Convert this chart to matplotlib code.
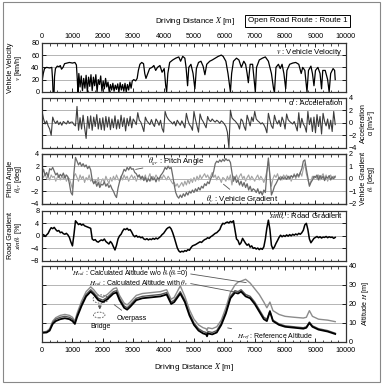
import numpy as np
import matplotlib
matplotlib.use("Agg")
import matplotlib.pyplot as plt
from matplotlib.patches import Rectangle, Ellipse
from matplotlib.ticker import MultipleLocator

plt.rcParams["font.family"] = ["Liberation Sans", "DejaVu Sans"]
plt.rcParams["mathtext.fontset"] = "stix"

# ---- data ----
# vehicle velocity [km/h] (irregular sampling)
vel_dist = [0, 40, 80, 150, 250, 320, 345, 360, 395, 410, 440, 500, 560, 600, 640, 690, 740, 820, 900, 1000,
            1080, 1130, 1160, 1180, 1210, 1250, 1290, 1330, 1370, 1410, 1450, 1490, 1530, 1570, 1610, 1650,
            1690, 1730, 1770, 1810, 1850, 1890, 1930, 1970, 2010, 2050, 2090, 2130, 2170, 2210, 2250, 2290,
            2330, 2370, 2410, 2450, 2490, 2530, 2570, 2610, 2650, 2690, 2730, 2770, 2810, 2850, 2890, 2930,
            2970, 3020, 3080, 3130, 3170, 3220, 3280, 3340, 3380, 3420, 3480, 3540, 3620, 3680, 3740, 3800,
            3880, 3950, 4020, 4070, 4100, 4140, 4200, 4300, 4400, 4500, 4560, 4630, 4700, 4740, 4790, 4830,
            4900, 4970, 5030, 5080, 5150, 5230, 5300, 5360, 5420, 5520, 5600, 5700, 5800, 5900, 5960, 6050,
            6120, 6200, 6240, 6300, 6400, 6480, 6560, 6640, 6700, 6750, 6790, 6850, 6930, 6980, 7020, 7060,
            7150, 7250, 7350, 7450, 7550, 7620, 7650, 7700, 7780, 7840, 7900, 7960, 8020, 8060, 8150, 8250,
            8350, 8450, 8530, 8580, 8650, 8720, 8770, 8850, 8900, 8950, 9000, 9080, 9150, 9200, 9240, 9320,
            9400, 9450, 9500, 9580, 9630, 9650]
vel_speed = [18, 30, 38, 40, 39, 40, 20, 0, 0, 25, 38, 42, 41, 43, 37, 40, 46, 47, 48, 47,
             48, 44, 20, 0, 30, 8, 26, 2, 22, 6, 27, 0, 24, 9, 28, 2,
             24, 10, 28, 0, 20, 12, 26, 1, 18, 5, 22, 8, 16, 0, 12, 3,
             14, 1, 11, 4, 13, 0, 15, 3, 12, 1, 14, 0, 12, 3, 16, 6,
             18, 20, 18, 22, 35, 45, 48, 46, 30, 22, 30, 38, 40, 43, 35, 40,
             43, 32, 38, 10, 0, 30, 48, 52, 55, 57, 50, 58, 55, 40, 10, 40,
             45, 30, 5, 38, 48, 50, 42, 28, 45, 50, 52, 55, 58, 60, 58, 50,
             30, 0, 30, 50, 55, 52, 40, 50, 45, 30, 15, 45, 45, 20, 0, 40,
             52, 55, 57, 50, 30, 5, 0, 40, 45, 38, 45, 30, 5, 35, 45, 47,
             48, 45, 30, 40, 35, 0, 35, 42, 30, 10, 35, 40, 30, 5, 35, 35,
             20, 0, 30, 38, 35, 20]

# 50 m sampled signals, 0 ... 9650 m
sample_dist = np.arange(0, 9651, 50)

accel = [1.8, 0.6, -0.2, 0.3, -0.5, -1.0, -2.0, 0.9, 0.2, -0.1, 0.3, -0.3, 0.1, -0.4, 0.2, 0.0, -0.2, 0.3, -0.1, 0.1,
         0.1, -0.3, -0.5, 2.6, -1.2, 0.8, -1.0, 1.2, -0.8, -2.5, 1.0, -0.9, 1.1, -1.2, 0.9, -0.6, 1.3, -1.0, 0.7, -1.1,
         0.8, -1.2, 1.0, -0.7, 0.9, -1.1, 0.6, -0.8, 1.1, -1.0, 0.5, -0.9, 1.2, -0.6, 0.8, -1.3, 0.7, -0.5, 1.0, -0.8,
         0.6, 0.2, -0.3, 1.6, 0.4, 0.1, -0.6, -1.4, 0.9, 0.3, 0.0, -0.3, 0.5, -0.2, -0.6, 0.6, 0.2, -0.4, 0.4, -0.9,
         -1.5, 1.8, 1.0, 0.6, 0.3, 0.1, -0.2, 0.2, -0.5, 0.4, 0.0, -0.4, 0.3, -0.2, -0.8, 1.5, 0.4, -0.3, -0.6, -1.2,
         1.8, 0.5, -0.5, -1.5, 1.4, 0.6, 0.2, -0.3, -0.8, 1.0, 0.4, 0.2, 0.6, 0.3, 0.1, 0.4, 0.2, -0.1, 0.3, 0.1,
         -0.2, -0.6, -1.5, -4.0, 2.0, 0.8, 0.5, 0.3, 0.0, -0.3, -1.0, 0.6, 0.3, -0.6, -1.2, 1.2, 0.4, -0.5, 0.9, 0.2,
         1.8, 0.6, 0.3, 0.1, -0.2, 0.0, -0.3, -0.8, -1.6, 1.5, 0.4, -0.5, -0.9, 1.2, 0.3, -0.2, 0.4, -0.6, 0.9, 0.2,
         -1.0, 1.4, 0.5, 0.2, 0.0, -0.2, 0.2, -0.5, -1.3, 1.6, -0.8, 0.7, -0.2, -0.6, -1.5, 1.8, -0.3, 0.8, -1.4, 0.9,
         -1.6, 1.3, -0.6, 1.0, -1.8, 1.5, 0.2, -0.5, 0.6, -1.0, 0.4, -1.4, 1.8, -0.3]

pitch = [0.8, 1.5, 0.5, 1.0, 0.3, 1.6, 1.4, 1.8, 1.2, 0.6, 0.9, 0.2, 0.7, 0.4, 0.9, 0.1, 0.6, 0.3, -0.8, -2.2,
         -2.6, 1.0, 3.4, 2.8, 2.2, 2.6, 2.0, 2.4, 1.9, 2.2, 1.6, 2.0, 1.4, -0.2, -0.8, -0.4, -1.2, -0.6, -1.4, -0.9,
         -1.0, -0.5, -1.2, -0.8, -1.4, -1.0, -1.6, -2.0, -2.6, -3.0, -1.5, -0.5, 0.3, 0.8, 1.5, 1.2, 1.8, 1.4, 1.9, 1.5,
         1.6, 1.0, 0.8, 0.3, 0.6, 0.0, 0.4, -0.3, 0.2, -0.5, 0.0, -0.4, 0.3, -0.2, 0.1, -0.5, 0.2, -0.1, 0.5, 0.8,
         1.2, 1.8, 1.5, 2.0, 1.6, 1.8, 0.5, -1.0, -2.2, -2.8, -3.1, -2.6, -3.0, -2.4, -2.8, -2.2, -2.6, -2.0, -2.3, -1.8,
         -2.2, -1.6, -2.0, -1.4, -1.8, -1.2, -1.5, -0.8, -1.1, -0.5, -0.8, 0.0, 0.4, 1.2, 2.4, 2.8, 2.6, 3.0, 2.7, 3.1,
         2.8, 3.2, 2.9, 3.0, 2.6, 1.0, -0.4, 0.3, -0.6, -0.2, -1.0, -0.4, -1.2, -0.6, -1.4, -0.8, -1.8, -1.2, -2.0, -1.6,
         -1.8, -2.2, -1.6, -2.4, -2.0, -2.6, -1.8, -2.2, 1.0, 3.3, 0.5, -2.6, -2.0, -1.2, -0.8, -0.3, 0.2, -0.2, 0.3, 0.0,
         0.2, -0.1, 0.4, 0.0, 0.5, 0.2, 0.6, 0.3, 0.8, 0.4, 1.0, 1.6, 2.8, 3.0, 1.5, 0.2, -1.2, -0.6, -0.2, 0.4,
         0.2, 0.6, -0.2, 0.5, 0.0, 0.4, -0.3, 0.3, 0.1, 0.5, -0.2, 0.3, 0.0, 0.4]

veh_grad = [0.3, 0.1, 0.4, 0.0, 0.2, -0.1, 0.3, 0.1, 0.2, -0.2, 0.1, 0.3, -0.1, 0.2, 0.0, 0.3, -0.2, 0.1, 0.0, -0.4,
            -0.8, 0.2, 0.4, 0.1, -0.2, 0.3, 0.0, 0.2, -0.3, 0.1, -0.1, 0.3, -0.2, 0.0, -0.4, -0.1, -0.3, 0.1, -0.6, -0.2,
            0.0, -0.3, 0.2, -0.1, -0.4, 0.1, -0.2, 0.2, -0.1, 0.3, 0.0, -0.2, 0.2, -0.1, 0.3, 0.0, 0.2, -0.2, 0.1, 0.3,
            0.0, 0.2, -0.2, 0.1, 0.3, -0.1, 0.2, 0.0, 0.3, -0.2, 0.1, 0.4, -0.1, 0.2, 0.0, 0.3, 0.1, -0.2, 0.2, 0.0,
            0.3, 0.1, -0.1, 0.2, 0.0, -0.2, -0.4, -0.3, -0.6, -0.4, -0.7, -0.5, -0.3, -0.6, -0.2, -0.5, -0.1, -0.4, 0.0, -0.3,
            0.1, -0.2, 0.2, -0.1, 0.3, 0.0, 0.2, 0.4, 0.1, 0.3, 0.0, 0.2, 0.5, 0.1, 0.3, -0.1, 0.2, 0.0, -0.3, 0.1,
            0.0, -0.2, 0.2, -0.1, 0.3, -0.5, 0.2, 0.0, 0.3, -0.1, 0.2, 0.4, 0.0, 0.2, -0.2, 0.1, 0.3, -0.1, 0.2, 0.0,
            -0.2, 0.1, 0.3, -0.1, 0.2, 0.0, -0.3, 0.1, 0.6, 1.4, 0.2, -0.6, 0.0, 0.3, 0.1, 0.4, 0.0, 0.2, -0.1, 0.3,
            0.1, 0.3, 0.0, 0.2, -0.2, 0.1, 0.4, 0.0, 0.3, 0.1, 0.5, 0.2, 0.8, 1.2, 0.4, -0.1, -0.5, -0.2, 0.2, 0.0,
            0.2, 0.0, 0.3, -0.1, 0.2, 0.4, 0.0, 0.3, -0.2, 0.1, 0.3, 0.0, 0.2, 0.1]

road_grad = [0.0, 0.4, -0.2, 0.3, 0.8, 1.8, 2.6, 2.3, 2.7, 2.0, 1.5, 1.7, 1.0, 1.2, 0.7, 0.5, 0.8, 0.3, -0.5, -2.0,
             -3.2, 0.5, 4.8, 4.2, 3.6, 3.9, 3.4, 3.7, 3.2, 3.0, 2.8, 2.6, 2.4, -1.0, -1.4, -1.2, -1.8, -2.0, -1.6, -1.3,
             -1.5, -1.0, -1.8, -2.2, -2.6, -1.8, -2.4, -3.5, -4.5, -3.0, -1.0, 0.0, 0.5, 1.5, 2.2, 2.0, 2.4, 1.8, 2.0, 1.2,
             0.2, -0.3, 0.1, -0.4, -0.2, -0.6, -0.4, -1.0, -1.2, -0.9, -1.3, -1.0, -1.2, -0.8, -1.1, -0.7, -1.0, -0.6, -0.2, 0.4,
             0.8, 1.5, 2.2, 2.6, 2.8, 2.2, 1.0, -0.5, -2.2, -3.8, -4.8, -5.2, -4.9, -5.1, -4.7, -4.9, -4.4, -4.6, -3.8, -3.2,
             -3.0, -2.8, -2.5, -2.2, -1.9, -2.1, -1.6, -1.2, -1.0, -0.6, -0.8, -0.3, 0.0, 0.4, 0.8, 1.0, 1.5, 2.0, 3.2, 4.0,
             3.8, 4.2, 4.4, 4.1, 4.6, 4.3, 4.8, 2.0, -1.0, -1.5, -2.8, -2.2, -0.8, -1.6, -2.4, -3.0, -2.6, -3.6, -3.2, -4.0,
             -3.8, -4.2, -3.9, -4.4, -4.0, -4.3, -3.5, -1.0, 2.5, 5.0, 2.0, -3.0, -4.2, -3.5, -2.4, -1.5, -0.5, 0.2, -0.3, 0.1,
             -0.2, 0.3, -0.1, 0.4, 0.0, 0.5, 0.2, 0.6, 0.3, 0.8, 0.5, 1.0, 1.8, 3.5, 4.0, 2.0, -1.0, -2.2, -1.5, -0.8,
             -0.5, -0.2, -0.6, -0.3, -0.7, -0.4, -0.5, -0.2, -0.6, -0.3, -0.5, -0.4, -0.8, -0.5]

# altitude [m]
alt_dist = [0, 150, 250, 350, 450, 600, 750, 900, 1000, 1080, 1150, 1300, 1450, 1600, 1700, 1850, 2000, 2150,
            2350, 2450, 2550, 2700, 2800, 2900, 3100, 3300, 3600, 3900, 4100, 4250, 4350, 4550, 4700, 4850,
            5000, 5150, 5300, 5400, 5430, 5460, 5600, 5750, 5900, 6050, 6200, 6350, 6450, 6550, 6700, 6850,
            7000, 7150, 7300, 7400, 7500, 7600, 7800, 8000, 8300, 8600, 8700, 8800, 8900, 9100, 9400, 9650]
alt_ref = [4.8, 5.0, 6.0, 9.5, 11.0, 12.0, 12.5, 12.0, 11.0, 9.5, 13.0, 19.0, 24.0, 26.5, 25.0, 22.0, 21.0, 22.5,
           25.5, 26.0, 22.0, 18.0, 17.0, 18.5, 22.0, 23.0, 23.5, 24.0, 25.0, 20.0, 21.0, 25.5, 21.0, 14.0,
           9.0, 6.0, 4.5, 4.0, 3.0, 4.5, 4.0, 5.0, 9.0, 15.0, 23.0, 26.0, 25.5, 26.5, 24.0, 23.0,
           20.0, 16.0, 12.0, 11.0, 16.0, 11.0, 9.0, 8.0, 7.5, 7.0, 7.5, 10.0, 8.0, 6.5, 5.5, 4.2]
alt_with = [5.0, 5.3, 6.5, 10.3, 12.0, 13.0, 13.5, 13.0, 12.0, 10.3, 14.0, 20.0, 25.0, 27.5, 26.0, 23.0, 22.0, 23.5,
            26.5, 27.0, 23.0, 19.0, 18.0, 19.5, 23.0, 24.0, 24.5, 25.0, 26.0, 21.0, 22.0, 26.5, 22.0, 15.0,
            10.0, 7.0, 5.5, 5.0, 4.0, 5.5, 5.0, 6.0, 10.0, 16.0, 24.0, 27.0, 26.5, 27.5, 25.0, 24.0,
            21.0, 17.0, 13.0, 12.0, 16.5, 11.5, 9.5, 8.5, 8.0, 7.5, 8.0, 10.5, 8.5, 7.0, 6.0, 4.6]
alt_wo = [5.2, 5.6, 7.0, 11.0, 12.8, 14.0, 14.5, 14.0, 13.0, 11.0, 15.0, 21.5, 26.5, 29.0, 27.5, 24.5, 23.5, 25.0,
          28.0, 28.5, 24.5, 20.5, 19.5, 21.0, 24.5, 25.5, 26.0, 26.5, 27.5, 22.5, 23.5, 29.5, 24.0, 17.0,
          12.0, 9.0, 7.5, 7.0, 6.0, 7.5, 7.0, 8.0, 11.5, 18.0, 26.0, 30.0, 31.5, 32.0, 33.0, 31.0,
          28.0, 25.0, 21.0, 18.0, 21.0, 16.5, 14.5, 13.5, 13.0, 12.6, 13.0, 16.5, 13.5, 12.0, 11.5, 10.7]

GRID = "#b4b4b4"
FS_TICK = 5.2
FS_LAB = 5.2
FS_NOTE = 5.0
LEFT_LAB_X = -0.058
RIGHT_LAB_X = 1.046


def style(ax, ylim, ystep, grid_vals):
    ax.set_xlim(0, 10000)
    ax.set_ylim(*ylim)
    ax.xaxis.set_major_locator(MultipleLocator(1000))
    ax.xaxis.set_minor_locator(MultipleLocator(250))
    ax.yaxis.set_major_locator(MultipleLocator(ystep))
    ax.tick_params(which="both", direction="in", top=True, bottom=True, left=True, right=True,
                   labelbottom=False, labelleft=False, labelsize=FS_TICK, pad=2)
    ax.tick_params(which="major", length=3, width=0.6)
    ax.tick_params(which="minor", length=1.8, width=0.5)
    for g in grid_vals:
        ax.axhline(g, color=GRID, lw=0.7, zorder=0)
    for s in ax.spines.values():
        s.set_linewidth(0.9)
        s.set_color("#333333")


def left_label(ax, txt):
    ax.set_ylabel(txt, fontsize=FS_LAB, linespacing=0.9)
    ax.yaxis.set_label_coords(LEFT_LAB_X, 0.5)


def right_label(ax, txt):
    ax.yaxis.set_label_position("right")
    ax.set_ylabel(txt, fontsize=FS_LAB, linespacing=0.9)
    ax.yaxis.set_label_coords(RIGHT_LAB_X, 0.5)


fig = plt.figure(figsize=(3.86, 3.86), dpi=100)
fig.patches.append(Rectangle((0.008, 0.01), 0.977, 0.984, transform=fig.transFigure,
                             fill=False, ec="#888888", lw=0.8))

L, W = 0.109, 0.787
ax1 = fig.add_axes([L, 0.762, W, 0.127])
ax2 = fig.add_axes([L, 0.617, W, 0.130])
ax3 = fig.add_axes([L, 0.472, W, 0.130])
ax4 = fig.add_axes([L, 0.324, W, 0.130])
ax5 = fig.add_axes([L, 0.114, W, 0.197])

# velocity
style(ax1, (0, 80), 20, [20, 40, 60])
ax1.plot(vel_dist, vel_speed, color="black", lw=0.9)
ax1.tick_params(labelleft=True, labeltop=True)
left_label(ax1, "Vehicle Velocity\n$v$ [km/h]")
ax1.text(0.99, 0.8, "$v$ : Vehicle Velocity", transform=ax1.transAxes, ha="right", va="center",
         fontsize=FS_NOTE + 0.6)

# acceleration
style(ax2, (-4, 4), 2, [-2, 0, 2])
ax2.plot(sample_dist, accel, color="#3c3c3c", lw=0.8)
ax2.tick_params(labelright=True)
right_label(ax2, "Acceleration\nα [m/s$^2$]")
ax2.text(0.99, 0.88, "α : Acceleration", transform=ax2.transAxes, ha="right", va="center",
         fontsize=FS_NOTE + 0.6)

# pitch angle / vehicle gradient
style(ax3, (-4, 4), 2, [-2, 0, 2])
ax3.tick_params(right=False, labelleft=True)
ax3.plot(sample_dist, pitch, color="#6a6a6a", lw=0.9)
left_label(ax3, "Pitch Angle\n$\\theta_{gr}$ [deg]")
ax3b = ax3.twinx()
ax3b.set_ylim(-2, 2)
ax3b.yaxis.set_major_locator(MultipleLocator(1))
ax3b.tick_params(direction="in", length=3, width=0.6, labelsize=FS_TICK, pad=2)
ax3b.plot(sample_dist, veh_grad, color="#a2a2a2", lw=0.8)
right_label(ax3b, "Vehicle Gradient\n$\\theta_v$ [deg]")
ax3.set_zorder(ax3b.get_zorder() + 1)
ax3.patch.set_visible(False)
ax3.annotate("$\\theta_{gr}$ : Pitch Angle", xy=(2990, 1.4), xytext=(3500, 2.75), fontsize=FS_NOTE + 0.6,
             va="center", arrowprops=dict(arrowstyle="-", color="#555555", lw=0.6))
ax3.annotate("$\\theta_v$ : Vehicle Gradient", xy=(5900, -0.6), xytext=(5400, -3.3), fontsize=FS_NOTE + 0.6,
             va="center", arrowprops=dict(arrowstyle="-", color="#555555", lw=0.6))

# road gradient
style(ax4, (-8, 8), 4, [-4, 0, 4])
ax4.plot(sample_dist, road_grad, color="black", lw=1.1)
ax4.tick_params(labelleft=True)
left_label(ax4, "Road Gradient\n$sin\\theta_r$ [%]")
ax4.text(0.99, 0.88, "$sin\\theta_r$ : Road Gradient", transform=ax4.transAxes, ha="right", va="center",
         fontsize=FS_NOTE + 0.6)

# altitude
style(ax5, (0, 40), 10, [10, 20, 30])
ax5.plot(alt_dist, alt_wo, color="#8c8c8c", lw=1.0)
ax5.plot(alt_dist, alt_with, color="#555555", lw=1.0)
ax5.plot(alt_dist, alt_ref, color="black", lw=1.3)
ax5.tick_params(labelbottom=True, labelright=True)
ax5.tick_params(axis="x", pad=3.5)
right_label(ax5, "Altitude $H$ [m]")
ax5.set_xlabel("Driving Distance $X$ [m]", fontsize=FS_LAB + 0.6, labelpad=5)

ax5.annotate("$H_{cal}$ : Calculated Altitude w/o $\\theta_v$($\\theta_v$=0)", xy=(6810, 31), xytext=(4800, 36),
             ha="right", va="center", fontsize=FS_NOTE,
             arrowprops=dict(arrowstyle="-", color="#555555", lw=0.6, shrinkA=0, relpos=(1.0, 0.5)))
ax5.annotate("$H_{cal}$ : Calculated Altitude with $\\theta_v$", xy=(6510, 25.8), xytext=(4800, 31),
             ha="right", va="center", fontsize=FS_NOTE,
             arrowprops=dict(arrowstyle="-", color="#555555", lw=0.6, shrinkA=0, relpos=(1.0, 0.5)))
ax5.annotate("$H_{ref}$ : Reference Altitude", xy=(6020, 7.7), xytext=(6420, 2.5), ha="left", va="center",
             fontsize=FS_NOTE, arrowprops=dict(arrowstyle="-", color="#555555", lw=0.6))
ax5.annotate("Overpass", xy=(2300, 20.5), xytext=(2470, 12.5), ha="left", va="center", fontsize=FS_NOTE,
             arrowprops=dict(arrowstyle="-", color="#555555", lw=0.6))
ax5.text(1910, 7.9, "Bridge", ha="center", va="center", fontsize=FS_NOTE)
ax5.add_patch(Ellipse((1925, 22.6), 500, 4.4, fill=False, ls=(0, (2, 1.5)), ec="#555555", lw=0.6))
ax5.add_patch(Ellipse((1880, 14.2), 380, 3.0, fill=False, ls=(0, (2, 1.5)), ec="#555555", lw=0.6))
ax5.annotate("", xy=(1900, 15.6), xytext=(1900, 20.4),
             arrowprops=dict(arrowstyle="-|>", color="#555555", lw=0.6, mutation_scale=5))

fig.text(0.505, 0.946, "Driving Distance $X$ [m]", ha="center", va="center", fontsize=FS_LAB + 0.6)
fig.text(0.771, 0.946, "Open Road Route : Route 1", ha="center", va="center", fontsize=FS_LAB + 0.6,
         bbox=dict(boxstyle="square,pad=0.3", fc="white", ec="black", lw=0.7))

fig.savefig("out.png", dpi=100)
